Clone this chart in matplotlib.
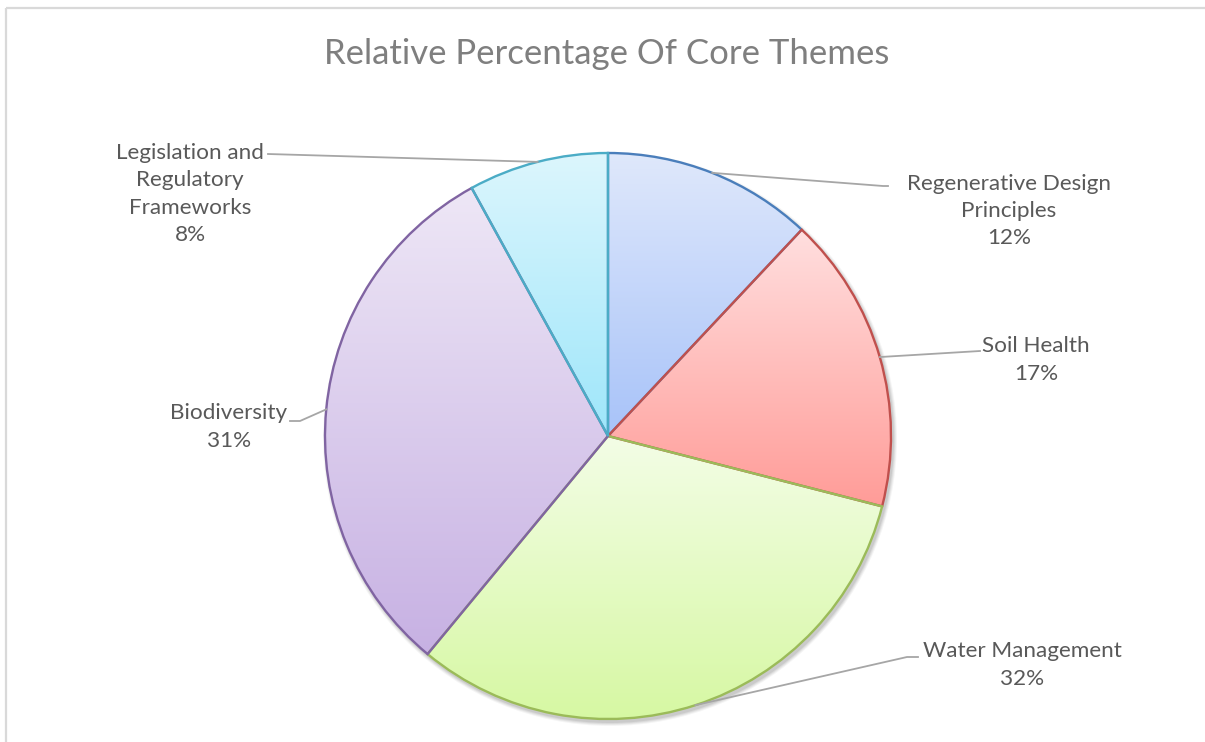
import matplotlib
matplotlib.use("Agg")
import matplotlib.pyplot as plt
import numpy as np
from matplotlib.colors import LinearSegmentedColormap
from matplotlib.patches import Circle

categories = ["Regenerative Design\nPrinciples", "Soil Health", "Water Management",
              "Biodiversity", "Legislation and\nRegulatory\nFrameworks"]
values = [12, 17, 32, 31, 8]
pct_labels = ["12%", "17%", "32%", "31%", "8%"]

top_colors = ["#dfe8fb", "#ffdfdf", "#f3fde6", "#eee7f6", "#dcf6fd"]
bottom_colors = ["#a8c3f9", "#ff9c98", "#d6f8a2", "#c7b1e3", "#9ee6fa"]
edge_colors = ["#4a7ebb", "#c0504d", "#9bbb59", "#8064a2", "#4bacc6"]

W, H = 1205, 742
fig = plt.figure(figsize=(W / 100, H / 100), dpi=100)
ax = fig.add_axes([0, 0, 1, 1])

def Y(y):
    return H - y

cx, cy, R = 608, Y(436), 283

# soft shadow
for i, a in enumerate([0.04, 0.05, 0.06, 0.07]):
    ax.add_patch(Circle((cx + 2, cy - 3), R + 4 - i, color="#000000", alpha=a, lw=0, zorder=1))

wedges, _ = ax.pie(values, startangle=90, counterclock=False, center=(cx, cy), radius=R,
                   wedgeprops=dict(linewidth=0), frame=True)
ax.set_xlim(0, W)
ax.set_ylim(0, H)
ax.set_aspect("auto")
ax.axis("off")

# chart border (top and left visible)
ax.plot([6, W], [Y(7.5), Y(7.5)], color="#d9d9d9", lw=1.6, solid_capstyle="butt")
ax.plot([6, 6], [Y(7.5), 0], color="#d9d9d9", lw=1.6, solid_capstyle="butt")

grad = np.linspace(0, 1, 256).reshape(-1, 1)
for w, tc, bc, ec in zip(wedges, top_colors, bottom_colors, edge_colors):
    w.set_facecolor("none")
    w.set_zorder(3)
    verts = w.get_path().vertices
    x0, x1 = verts[:, 0].min(), verts[:, 0].max()
    y0, y1 = verts[:, 1].min(), verts[:, 1].max()
    cmap = LinearSegmentedColormap.from_list("g", [bc, tc])
    im = ax.imshow(grad, cmap=cmap, extent=(x0, x1, y0, y1), origin="lower",
                   aspect="auto", zorder=2, interpolation="bilinear")
    im.set_clip_path(w)
    w.set_edgecolor(ec)
    w.set_linewidth(1.7)
    w.set_joinstyle("miter")

ax.set_xlim(0, W)
ax.set_ylim(0, H)

# title
ax.text(607, Y(64), "Relative Percentage Of Core Themes", ha="center", va="baseline",
        fontsize=25, color="#7f7f7f", family="Lato")

# labels: text center positions and leader elbow points (pixel coords, y from top)
label_pos = [(1009, 211), (1036, 360), (1022, 665), (229, 427), (190, 194)]
elbows = [(883, 186), (980, 351), (907, 657), (300, 421), (268, 154)]
ends = [(888, 186), (980, 351), (918, 657), (290, 421), (268, 154)]

for w, cat, pct, lp, el, en in zip(wedges, categories, pct_labels, label_pos, elbows, ends):
    mid = np.deg2rad((w.theta1 + w.theta2) / 2)
    ax_x = cx + R * np.cos(mid)
    ax_y = cy + R * np.sin(mid)
    ax.plot([ax_x, el[0], en[0]], [ax_y, Y(el[1]), Y(en[1])], color="#a6a6a6", lw=1.3, zorder=4)
    ax.text(lp[0], Y(lp[1]), cat + "\n" + pct, ha="center", va="center", fontsize=16.2,
            color="#595959", family="Lato", linespacing=1.45)

fig.savefig("out.png", dpi=100)
